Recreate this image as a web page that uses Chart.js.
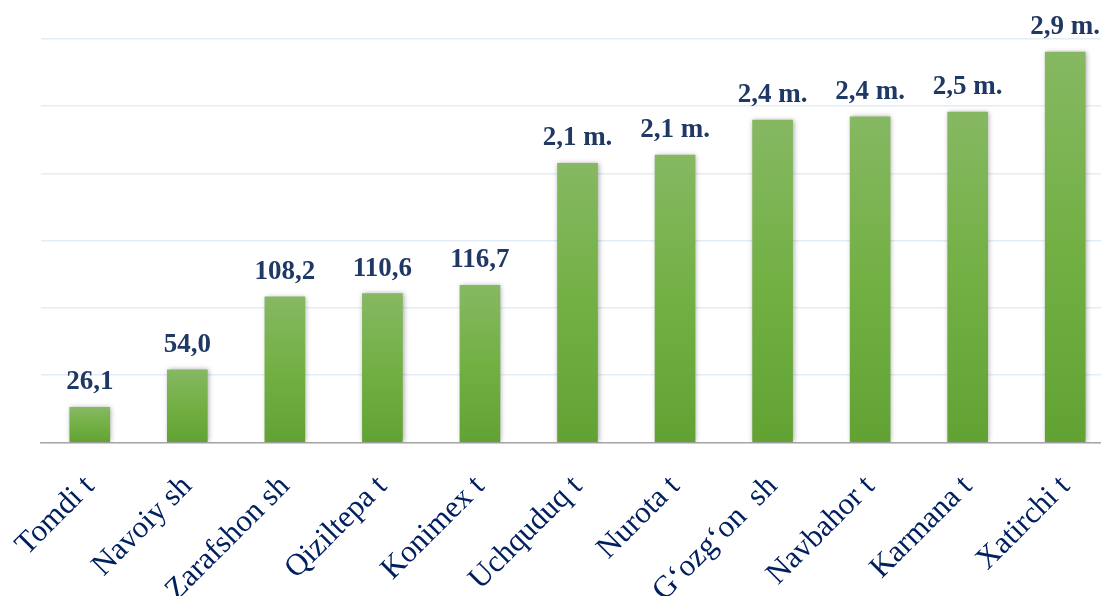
<!DOCTYPE html>
<html lang="en">
<head>
  <meta charset="UTF-8">
  <title>Tumanlar</title>
  <style>
    html, body {
      margin: 0;
      padding: 0;
      background: #ffffff;
      overflow: hidden;
    }
    #chart {
      display: block;
    }
  </style>
</head>
<body>
  <canvas id="chart" width="1114" height="596"></canvas>

  <script src="https://cdn.jsdelivr.net/npm/chart.js"></script>
  <script>
    // Categories (districts / cities)
    const districts = ['Tomdi t', 'Navoiy sh', 'Zarafshon sh', 'Qiziltepa t', 'Konimex t', 'Uchquduq t',
      'Nurota t', 'G\u2018ozg\u2018on  sh', 'Navbahor t', 'Karmana t', 'Xatirchi t'];

    // Bar heights
    const barValues = [26.1, 54.0, 108.2, 110.6, 116.7, 207.5, 213.5, 239.5, 242.0, 245.5, 290.0];

    // Text shown above each bar
    const valueLabels = ['26,1', '54,0', '108,2', '110,6', '116,7', '2,1 m.', '2,1 m.', '2,4 m.', '2,4 m.', '2,5 m.', '2,9 m.'];

    // Y axis range (labels hidden in the original)
    const yMin = 0;
    const yMax = 300;
    const yStep = 50;

    // per-bar vertical gradient
    function barGradient(context) {
      const chart = context.chart;
      const yScale = chart.scales.y;
      if (!chart.chartArea || !yScale) return '#70ad47';
      const value = context.raw;
      const top = yScale.getPixelForValue(value);
      const bottom = yScale.getPixelForValue(0);
      const g = chart.ctx.createLinearGradient(0, top, 0, bottom);
      g.addColorStop(0, '#86b862');
      g.addColorStop(0.5, '#72b044');
      g.addColorStop(1, '#62a233');
      return g;
    }

    // soft shadow around bars
    const barShadow = {
      id: 'barShadow',
      beforeDatasetsDraw(chart) {
        const ctx = chart.ctx;
        ctx.save();
        ctx.shadowColor = 'rgba(0, 0, 0, 0.35)';
        ctx.shadowBlur = 5;
        ctx.shadowOffsetX = 1;
        ctx.shadowOffsetY = 0;
      },
      afterDatasetsDraw(chart) {
        chart.ctx.restore();
      }
    };

    // value labels above the bars
    const valueLabelPlugin = {
      id: 'valueLabels',
      afterDatasetsDraw(chart) {
        const ctx = chart.ctx;
        const meta = chart.getDatasetMeta(0);
        ctx.save();
        ctx.font = 'bold 27px "Liberation Serif", "Times New Roman", serif';
        ctx.fillStyle = '#1f3864';
        ctx.textAlign = 'center';
        ctx.textBaseline = 'alphabetic';
        meta.data.forEach((bar, i) => {
          ctx.fillText(valueLabels[i], bar.x, bar.y - 18);
        });
        ctx.restore();
      }
    };

    const ctx = document.getElementById('chart').getContext('2d');
    new Chart(ctx, {
      type: 'bar',
      data: {
        labels: districts,
        datasets: [{
          data: barValues,
          backgroundColor: barGradient,
          borderWidth: 0,
          barThickness: 40
        }]
      },
      options: {
        responsive: false,
        animation: false,
        layout: {
          padding: { top: 38.7, left: 0, right: 0, bottom: 0 }
        },
        plugins: {
          legend: { display: false },
          tooltip: { enabled: false }
        },
        scales: {
          x: {
            grid: { display: false, drawTicks: false },
            border: { display: true, color: '#a6a6a6', width: 1.5 },
            ticks: {
              autoSkip: false,
              minRotation: 45,
              maxRotation: 45,
              padding: 26,
              color: '#002060',
              font: { family: '"Liberation Serif", "Times New Roman", serif', size: 31 }
            },
            afterFit(scale) {
              scale.height = 596 - 442.5;
              scale.paddingLeft = 0;
              scale.paddingRight = 0;
            }
          },
          y: {
            min: yMin,
            max: yMax,
            ticks: { display: false, stepSize: yStep },
            border: { display: false },
            grid: {
              color: '#e3edf7',
              lineWidth: 1.5,
              drawTicks: false
            },
            afterFit(scale) {
              scale.width = 41;
            }
          }
        }
      },
      plugins: [barShadow, valueLabelPlugin]
    });
  </script>
</body>
</html>
